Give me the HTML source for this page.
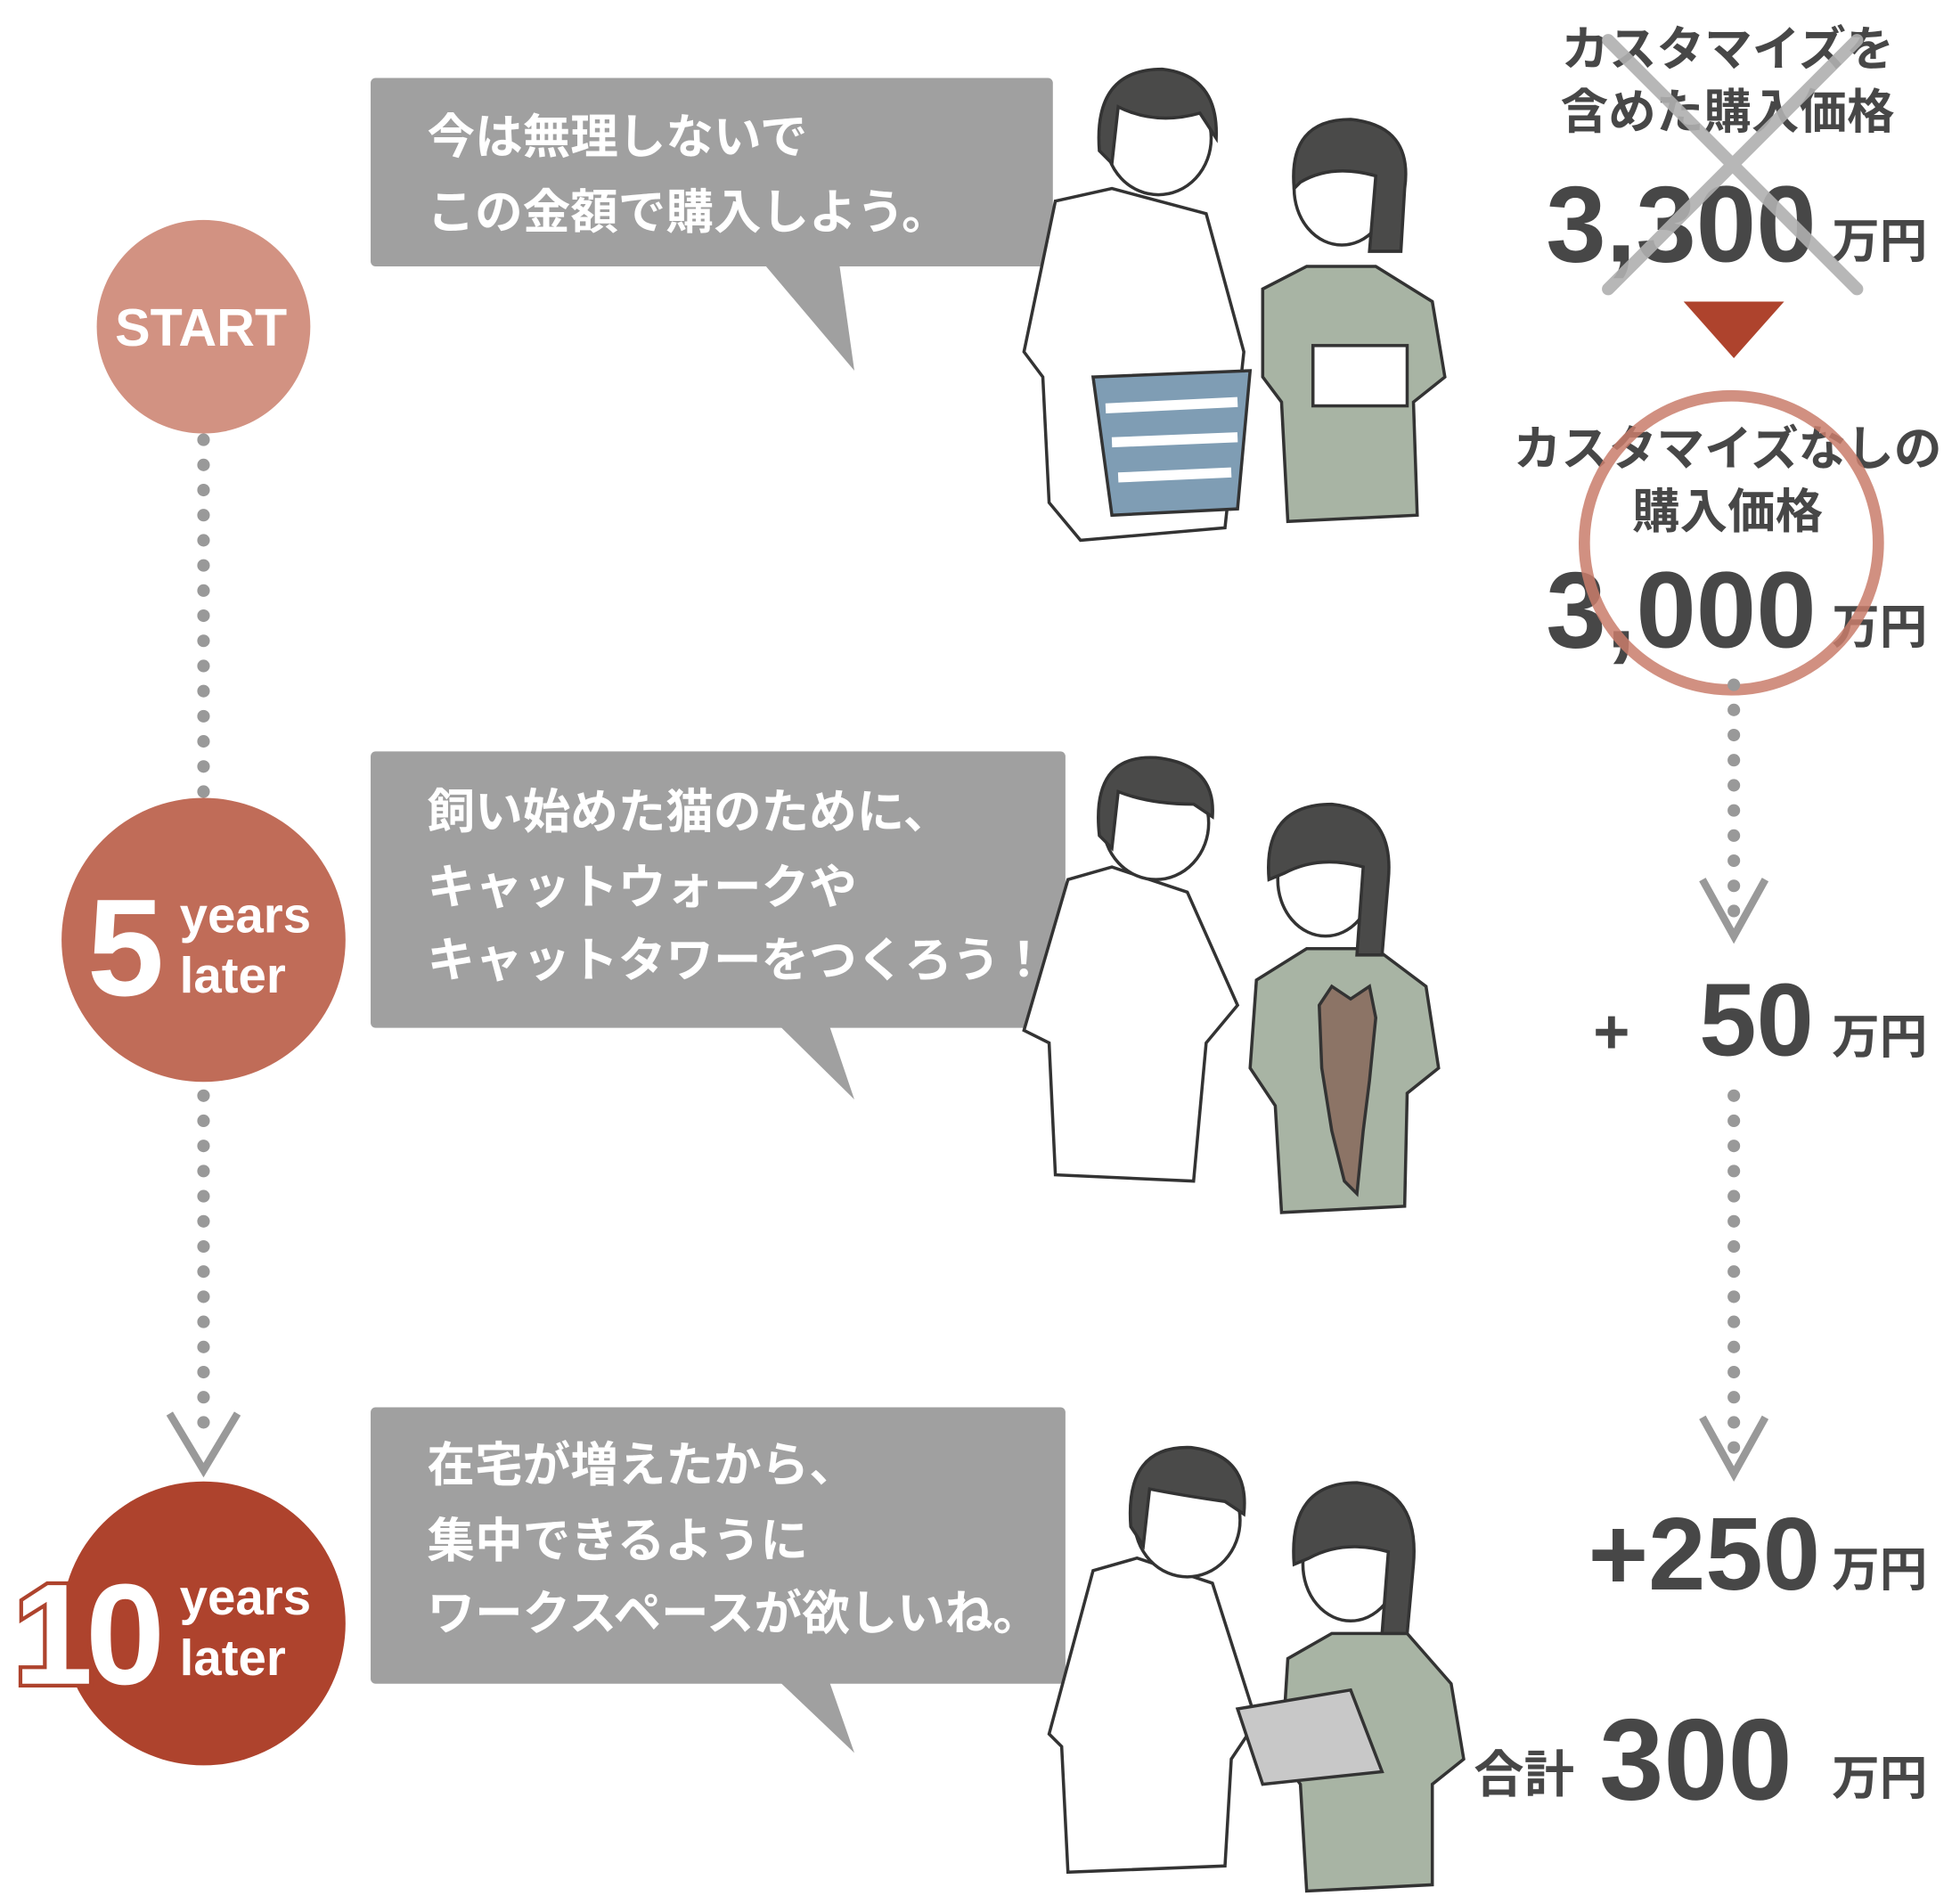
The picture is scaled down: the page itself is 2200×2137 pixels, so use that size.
<!DOCTYPE html>
<html><head><meta charset="utf-8"><style>
html,body{margin:0;padding:0;background:#fff;}
svg{display:block}
text{font-family:"Liberation Sans","Noto Sans CJK JP",sans-serif;font-weight:bold}
</style></head><body>
<svg width="2200" height="2137" viewBox="0 0 1560 1515.3" xmlns="http://www.w3.org/2000/svg">
<line x1="162" y1="350" x2="162" y2="632" stroke="#999" stroke-width="10" stroke-linecap="round" stroke-dasharray="0 20"/>
<line x1="162" y1="872" x2="162" y2="1150" stroke="#999" stroke-width="10" stroke-linecap="round" stroke-dasharray="0 20"/>
<polyline points="135,1125 162,1170 189,1125" fill="none" stroke="#999" stroke-width="6"/>
<circle cx="162" cy="260" r="85" fill="#d29282"/>
<text x="160" y="275" font-size="42" fill="#fff" text-anchor="middle">START</text>
<circle cx="162" cy="748" r="113" fill="#c06c58"/>
<text x="100" y="792" font-size="110" fill="#fff" text-anchor="middle">5</text>
<text x="143" y="742" font-size="40" fill="#fff">years</text>
<text x="143" y="790" font-size="40" fill="#fff">later</text>
<circle cx="162" cy="1292" r="113" fill="#ae432d"/>
<text x="68" y="1340" font-size="114" fill="#fff" stroke="#ae432d" stroke-width="6" paint-order="stroke" text-anchor="middle" letter-spacing="-6">10</text>
<text x="143" y="1285" font-size="40" fill="#fff">years</text>
<text x="143" y="1333" font-size="40" fill="#fff">later</text>

<g fill="#a0a0a0">
<rect x="295" y="62" width="543" height="150" rx="4"/>
<polygon points="608,210 668,210 680,295"/>
<rect x="295" y="598" width="553" height="220" rx="4"/>
<polygon points="620,816 660,816 680,875"/>
<rect x="295" y="1120" width="553" height="220" rx="4"/>
<polygon points="620,1338 660,1338 680,1395"/>
</g>
<g fill="#fff" font-size="38">
<text x="340" y="122">今は無理しないで</text>
<text x="340" y="182">この金額で購入しよう。</text>
<text x="340" y="659">飼い始めた猫のために、</text>
<text x="340" y="719">キャットウォークや</text>
<text x="340" y="777">キャットタワーをつくろう！</text>
<text x="340" y="1179">在宅が増えたから、</text>
<text x="340" y="1239">集中できるように</text>
<text x="340" y="1297">ワークスペースが欲しいね。</text>
</g>

<g stroke="#333" stroke-width="2.5">
<path d="M840,160 L885,150 L960,170 L990,280 L975,420 L860,430 L835,400 L830,300 L815,280 Z" fill="#fff"/>
<ellipse cx="922" cy="110" rx="42" ry="45" fill="#fff"/>
<path d="M875,120 Q870,55 925,55 Q970,60 968,110 L955,90 Q920,100 890,85 L885,130 Z" fill="#4a4a49"/>
<path d="M1005,230 L1040,212 L1095,212 L1140,240 L1150,300 L1125,320 L1128,410 L1025,415 L1020,320 L1005,300 Z" fill="#a8b4a4"/>
<ellipse cx="1068" cy="150" rx="38" ry="45" fill="#fff"/>
<path d="M1030,150 Q1025,95 1075,95 Q1125,100 1118,150 L1115,200 L1090,200 L1095,140 Q1060,130 1035,145 Z" fill="#4a4a49"/>
<rect x="1045" y="275" width="75" height="48" fill="#fff"/>
<path d="M870,300 L995,295 L985,405 L885,410 Z" fill="#7f9db4"/>
<path d="M880,325 L985,320 M885,352 L985,348 M890,380 L980,376" stroke="#fff" stroke-width="8"/>
<path d="M850,700 L885,690 L945,710 L985,800 L960,830 L950,940 L840,935 L835,830 L815,820 Z" fill="#fff"/>
<ellipse cx="920" cy="655" rx="42" ry="45" fill="#fff"/>
<path d="M875,665 Q868,600 920,603 Q968,608 965,650 L950,640 Q915,640 890,630 L885,675 Z" fill="#4a4a49"/>
<path d="M1000,780 L1040,755 L1095,755 L1135,785 L1145,850 L1120,870 L1118,960 L1020,965 L1015,880 L995,850 Z" fill="#a8b4a4"/>
<ellipse cx="1055" cy="700" rx="38" ry="45" fill="#fff"/>
<path d="M1010,700 Q1005,640 1060,640 Q1110,645 1105,700 L1100,760 L1080,760 L1085,690 Q1050,680 1022,695 Z" fill="#4a4a49"/>
<path d="M1050,800 L1060,785 L1075,795 L1090,785 L1095,810 L1090,860 L1085,900 L1080,950 L1070,940 L1060,900 L1052,850 Z" fill="#8c7466"/>
<path d="M870,1250 L905,1240 L965,1260 L1000,1370 L980,1400 L975,1485 L850,1490 L845,1390 L835,1380 Z" fill="#fff"/>
<ellipse cx="945" cy="1210" rx="42" ry="45" fill="#fff"/>
<path d="M900,1215 Q895,1150 948,1152 Q995,1158 990,1205 L975,1195 Q940,1190 915,1185 L910,1230 Z" fill="#4a4a49"/>
<path d="M1025,1320 L1060,1300 L1120,1300 L1155,1340 L1165,1400 L1140,1420 L1140,1500 L1040,1505 L1035,1420 L1020,1400 Z" fill="#a8b4a4"/>
<ellipse cx="1075" cy="1245" rx="38" ry="45" fill="#fff"/>
<path d="M1030,1245 Q1025,1180 1080,1180 Q1130,1185 1125,1245 L1120,1300 L1100,1300 L1105,1235 Q1070,1225 1042,1240 Z" fill="#4a4a49"/>
<path d="M985,1360 L1075,1345 L1100,1410 L1005,1420 Z" fill="#c8c8c8"/>
</g>

<g fill="#474747">
<text x="1375" y="52" font-size="38" text-anchor="middle">カスタマイズを</text>
<text x="1375" y="102" font-size="38" text-anchor="middle">含めた購入価格</text>
<text x="1338" y="208" font-size="86" text-anchor="middle">3,300</text>
<text x="1458" y="205" font-size="38">万円</text>
<text x="1375" y="370" font-size="38" text-anchor="middle">カスタマイズなしの</text>
<text x="1375" y="420" font-size="38" text-anchor="middle">購入価格</text>
<text x="1338" y="515" font-size="86" text-anchor="middle">3,000</text>
<text x="1458" y="512" font-size="38">万円</text>
<text x="1268" y="838" font-size="50">+</text>
<text x="1398" y="840" font-size="82" text-anchor="middle">50</text>
<text x="1458" y="838" font-size="38">万円</text>
<text x="1264" y="1265" font-size="82">+250</text>
<text x="1458" y="1262" font-size="38">万円</text>
<text x="1173" y="1426" font-size="40">合計</text>
<text x="1273" y="1432" font-size="92">300</text>
<text x="1458" y="1428" font-size="38">万円</text>
</g>
<g stroke="#b0b0b0" stroke-width="10" stroke-linecap="round" opacity="0.9">
<line x1="1280" y1="32" x2="1478" y2="230"/>
<line x1="1478" y1="32" x2="1280" y2="230"/>
</g>
<polygon points="1340,240 1420,240 1380,285" fill="#ae432d"/>
<circle cx="1378" cy="432" r="117" fill="none" stroke="#c97d6b" stroke-width="9" opacity="0.85"/>
<line x1="1380" y1="545" x2="1380" y2="728" stroke="#999" stroke-width="10" stroke-linecap="round" stroke-dasharray="0 20"/>
<polyline points="1355,700 1380,745 1405,700" fill="none" stroke="#999" stroke-width="6"/>
<line x1="1380" y1="872" x2="1380" y2="1158" stroke="#999" stroke-width="10" stroke-linecap="round" stroke-dasharray="0 20"/>
<polyline points="1355,1128 1380,1173 1405,1128" fill="none" stroke="#999" stroke-width="6"/>
</svg>
</body></html>
